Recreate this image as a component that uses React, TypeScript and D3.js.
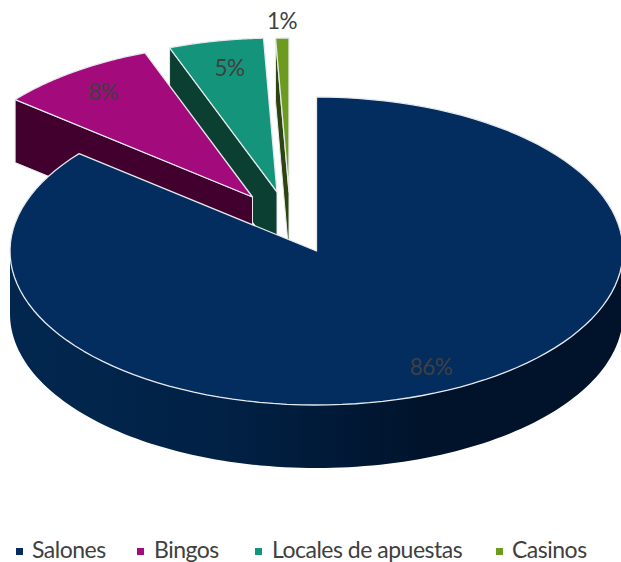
import React from "react";
import * as d3 from "d3";

const categories = ["Salones", "Bingos", "Locales de apuestas", "Casinos"];
const shares = [85.9, 8.4, 5.0, 0.7];
const percentLabels = ["86%", "8%", "5%", "1%"];
const topColors = ["#022d5e", "#a30a7b", "#14957b", "#6b9c20"];
const wallColors = ["#02254c", "#42002f", "#0a3f32", "#2c4410"];

// Layout constants
const W = 621, H = 562;
const cx = 316.5, cy = 251, rx = 306.5, ry = 154, depth = 63;
const explodeX = [0, -64, -39.5, -27.5];
const explodeY = [0, -54, -59, -59];
const labelX = [431, 103, 229.5, 282];
const labelY = [366.5, 91.5, 67.5, 20.5];
const legendMarkX = [16, 137, 255, 496];
const legendTextX = [32, 154, 272, 512];
const fontFamily = "Lato, Carlito, 'Open Sans', sans-serif";

type Pt = [number, number];
const line = d3.line<Pt>().x(d => d[0]).y(d => d[1]);
const pie = d3.pie<number>().sort(null).startAngle(0).endAngle(2 * Math.PI);
const arcs = pie(shares);

const project = (a: number, i: number, dz = 0): Pt => [
  cx + explodeX[i] + rx * Math.sin(a),
  cy + explodeY[i] - ry * Math.cos(a) + dz,
];
const apex = (i: number, dz = 0): Pt => [cx + explodeX[i], cy + explodeY[i] + dz];
const sweep = (a0: number, a1: number, i: number, dz = 0): Pt[] =>
  d3.range(0, 121).map(k => project(a0 + ((a1 - a0) * k) / 120, i, dz));

const topPath = (i: number) => {
  const s = arcs[i];
  return line([apex(i), ...sweep(s.startAngle, s.endAngle, i)])! + "Z";
};
// End-of-slice wall that faces the viewer
const startWall = (i: number) => {
  const a = arcs[i].startAngle;
  return line([project(a, i), apex(i), apex(i, depth), project(a, i, depth)])! + "Z";
};
// Outer rim visible at the front of the main slice
const rimPath = () => {
  const t = sweep(Math.PI / 2, (3 * Math.PI) / 2, 0);
  const b = sweep((3 * Math.PI) / 2, Math.PI / 2, 0, depth);
  return line([...t, ...b])! + "Z";
};

const order = [3, 2, 1, 0];

export default function App() {
  return (
    <svg
      width={W}
      height={H}
      viewBox={`0 0 ${W} ${H}`}
      style={{ position: "absolute", left: 0, top: 0, display: "block", background: "#fff" }}
    >
      <defs>
        <linearGradient id="rim" gradientUnits="userSpaceOnUse" x1={10} x2={622} y1={0} y2={0}>
          <stop offset="0" stopColor="#02274f" />
          <stop offset="0.35" stopColor="#012145" />
          <stop offset="0.68" stopColor="#00132b" />
          <stop offset="1" stopColor="#01132a" />
        </linearGradient>
      </defs>
      {order.map(i => (
        <g key={categories[i]}>
          {i === 0 ? (
            <path d={rimPath()} fill="url(#rim)" />
          ) : (
            <path d={startWall(i)} fill={wallColors[i]} stroke="#e6e9ec" strokeWidth={1} />
          )}
          <path d={topPath(i)} fill={topColors[i]} stroke="#e6e9ec" strokeWidth={1.3} strokeLinejoin="round" />
        </g>
      ))}
      {percentLabels.map((t, i) => (
        <text
          key={t}
          x={labelX[i]}
          y={labelY[i]}
          textAnchor="middle"
          dominantBaseline="central"
          fontFamily={fontFamily}
          fontSize={22.5}
          letterSpacing={-0.5}
          fill="#404040"
        >
          {t}
        </text>
      ))}
      {categories.map((c, i) => (
        <g key={c}>
          <rect x={legendMarkX[i]} y={548} width={7} height={7} fill={topColors[i]} />
          <text x={legendTextX[i]} y={558} fontFamily={fontFamily} fontSize={23} fill="#404040" letterSpacing={-0.5}>
            {c}
          </text>
        </g>
      ))}
    </svg>
  );
}
